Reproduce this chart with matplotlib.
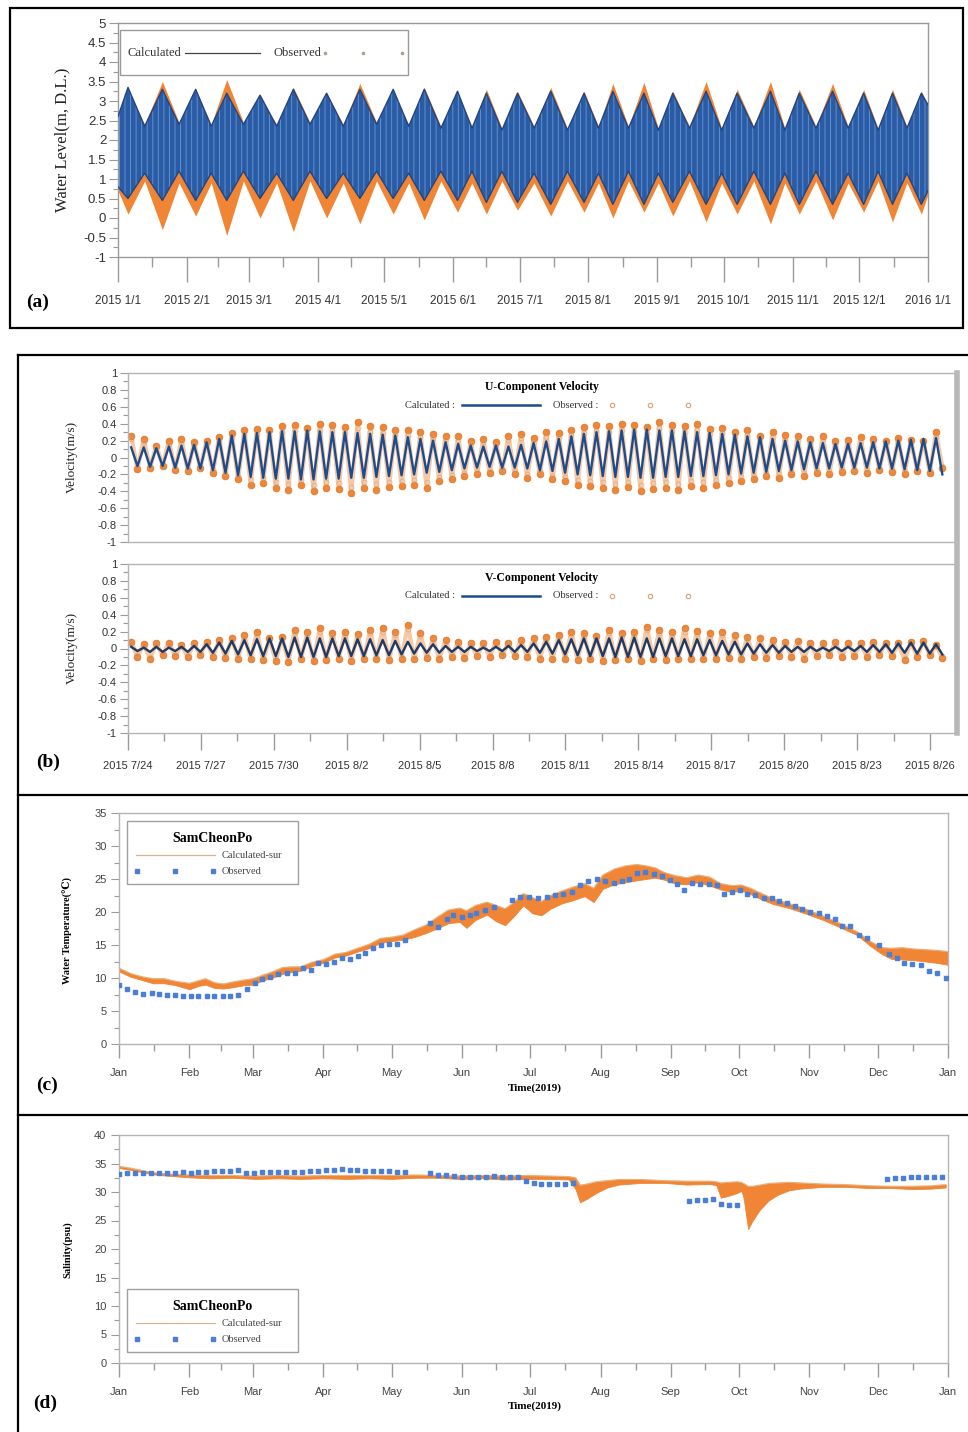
import datetime as dt
import numpy as np
import matplotlib
matplotlib.use('Agg')
import matplotlib.pyplot as plt
from matplotlib.lines import Line2D
from matplotlib.patches import Rectangle
from matplotlib.ticker import FixedLocator, FixedFormatter

plt.rcParams['axes.unicode_minus'] = False
plt.rcParams['hatch.linewidth'] = 0.7

# ---------------- DATA ----------------
# (a) water level envelope (day of 2015, alternating neap / spring extremes)
a_days = [0, 4.5, 12, 20, 27.5, 35, 42, 49, 56.5, 64, 71.5, 79, 86.5, 94, 101.5, 109, 116.5, 124,
          131, 138, 145.5, 153, 159.5, 166, 173, 180, 187.5, 195, 202.5, 210, 216.5, 223, 230, 237,
          243.5, 250, 257.5, 265, 272, 279, 286.5, 294, 300.5, 307, 314.5, 322, 329, 336, 342.5,
          349, 355.5, 362, 365]
a_calc_up = [2.6, 3.35, 2.35, 3.3, 2.4, 3.3, 2.35, 3.2, 2.4, 3.15, 2.35, 3.3, 2.4, 3.2, 2.35, 3.3, 2.4,
             3.3, 2.35, 3.3, 2.3, 3.25, 2.3, 3.2, 2.25, 3.2, 2.3, 3.25, 2.25, 3.2, 2.3, 3.25, 2.3, 3.2,
             2.25, 3.2, 2.3, 3.25, 2.25, 3.2, 2.3, 3.25, 2.25, 3.2, 2.3, 3.25, 2.3, 3.2, 2.25, 3.2,
             2.3, 3.2, 2.9]
a_calc_lo = [0.8, 0.5, 1.15, 0.45, 1.2, 0.45, 1.15, 0.45, 1.2, 0.5, 1.15, 0.45, 1.2, 0.5, 1.15, 0.5, 1.2,
             0.5, 1.15, 0.45, 1.2, 0.45, 1.2, 0.4, 1.2, 0.4, 1.15, 0.35, 1.2, 0.4, 1.15, 0.35, 1.2,
             0.35, 1.15, 0.4, 1.2, 0.35, 1.15, 0.35, 1.2, 0.35, 1.15, 0.35, 1.2, 0.35, 1.15, 0.35,
             1.2, 0.35, 1.15, 0.35, 0.7]
a_obs_up = [2.7, 3.3, 2.4, 3.5, 2.45, 3.3, 2.4, 3.55, 2.45, 3.1, 2.4, 3.35, 2.45, 3.2, 2.4, 3.45, 2.45,
            3.2, 2.4, 3.35, 2.35, 3.2, 2.35, 3.3, 2.3, 3.25, 2.35, 3.35, 2.3, 3.25, 2.35, 3.45, 2.35,
            3.48, 2.3, 3.25, 2.35, 3.5, 2.3, 3.3, 2.35, 3.5, 2.3, 3.3, 2.35, 3.45, 2.35, 3.3, 2.3,
            3.3, 2.35, 3.25, 2.9]
a_obs_lo = [0.7, 0.1, 0.95, -0.3, 0.9, 0.05, 0.9, -0.45, 0.95, 0.0, 0.9, -0.35, 0.95, 0.0, 0.9, -0.15,
            0.95, 0.1, 0.9, -0.05, 0.95, 0.15, 0.9, 0.1, 0.95, 0.2, 0.9, 0.05, 0.95, 0.15, 0.9, 0.0,
            0.95, 0.15, 0.9, 0.05, 0.95, -0.1, 0.9, 0.1, 0.95, -0.15, 0.9, 0.1, 0.95, -0.05, 0.9,
            0.15, 0.95, -0.1, 0.9, 0.1, 0.6]
a_xlabels = ['2015 1/1', '2015 2/1', '2015 3/1', '2015 4/1', '2015 5/1', '2015 6/1', '2015 7/1',
             '2015 8/1', '2015 9/1', '2015 10/1', '2015 11/1', '2015 12/1', '2016 1/1']
a_ylabels = ['5', '4.5', '4', '3.5', '3', '2.5', '2', '1.5', '1', '0.5', '0', '-0.5', '-1']

# (b) velocity extremes per tidal cycle (65 semidiurnal cycles from 2015-07-24)
u_calc_hi = [0.12, 0.12, 0.11, 0.13, 0.14, 0.15, 0.18, 0.22, 0.26, 0.28, 0.29, 0.30, 0.31, 0.31, 0.32,
             0.31, 0.30, 0.30, 0.29, 0.28, 0.27, 0.26, 0.24, 0.22, 0.20, 0.18, 0.16, 0.14, 0.13, 0.14,
             0.13, 0.15, 0.17, 0.19, 0.22, 0.25, 0.28, 0.30, 0.31, 0.32, 0.33, 0.33, 0.32, 0.32, 0.31,
             0.30, 0.29, 0.28, 0.27, 0.25, 0.24, 0.22, 0.20, 0.19, 0.18, 0.17, 0.16, 0.16, 0.17, 0.18,
             0.19, 0.20, 0.21, 0.22, 0.23]
u_calc_lo = [-0.10, -0.11, -0.10, -0.12, -0.13, -0.13, -0.15, -0.18, -0.21, -0.23, -0.24, -0.25, -0.25,
             -0.26, -0.26, -0.25, -0.25, -0.24, -0.24, -0.23, -0.22, -0.21, -0.20, -0.18, -0.17, -0.15,
             -0.13, -0.12, -0.11, -0.12, -0.12, -0.13, -0.15, -0.16, -0.18, -0.20, -0.21, -0.22, -0.23,
             -0.23, -0.24, -0.24, -0.23, -0.23, -0.22, -0.22, -0.21, -0.20, -0.19, -0.18, -0.17, -0.16,
             -0.15, -0.14, -0.13, -0.13, -0.12, -0.12, -0.12, -0.13, -0.13, -0.14, -0.15, -0.16, -0.20]
u_obs_hi = [0.26, 0.22, 0.14, 0.20, 0.22, 0.18, 0.20, 0.24, 0.29, 0.33, 0.34, 0.33, 0.37, 0.39, 0.35,
            0.40, 0.38, 0.36, 0.42, 0.37, 0.36, 0.33, 0.33, 0.30, 0.28, 0.26, 0.25, 0.20, 0.22, 0.18,
            0.25, 0.28, 0.23, 0.30, 0.29, 0.32, 0.36, 0.38, 0.37, 0.40, 0.38, 0.36, 0.42, 0.38, 0.37,
            0.40, 0.34, 0.35, 0.30, 0.32, 0.26, 0.30, 0.27, 0.25, 0.22, 0.26, 0.20, 0.21, 0.24, 0.22,
            0.20, 0.23, 0.21, 0.20, 0.30]
u_obs_lo = [-0.14, -0.12, -0.10, -0.15, -0.16, -0.13, -0.18, -0.22, -0.26, -0.32, -0.30, -0.36, -0.38,
            -0.33, -0.40, -0.36, -0.37, -0.42, -0.36, -0.38, -0.35, -0.34, -0.32, -0.36, -0.28, -0.25,
            -0.22, -0.20, -0.18, -0.16, -0.20, -0.24, -0.20, -0.26, -0.28, -0.32, -0.34, -0.36, -0.38,
            -0.35, -0.40, -0.37, -0.36, -0.38, -0.34, -0.36, -0.33, -0.30, -0.28, -0.26, -0.22, -0.24,
            -0.20, -0.22, -0.18, -0.20, -0.17, -0.16, -0.18, -0.15, -0.17, -0.19, -0.16, -0.18, -0.12]
v_calc_hi = [0.02, 0.01, 0.02, 0.01, 0.02, 0.03, 0.05, 0.07, 0.09, 0.10, 0.11, 0.12, 0.12, 0.13, 0.13,
             0.12, 0.12, 0.12, 0.11, 0.11, 0.10, 0.09, 0.08, 0.06, 0.05, 0.03, 0.02, 0.02, 0.01, 0.02,
             0.03, 0.04, 0.06, 0.08, 0.10, 0.11, 0.12, 0.12, 0.12, 0.13, 0.13, 0.12, 0.12, 0.12, 0.11,
             0.11, 0.10, 0.09, 0.08, 0.06, 0.05, 0.04, 0.03, 0.02, 0.02, 0.01, 0.02, 0.02, 0.03, 0.04,
             0.05, 0.06, 0.07, 0.07, 0.05]
v_calc_lo = [-0.03, -0.04, -0.04, -0.03, -0.04, -0.04, -0.05, -0.06, -0.07, -0.08, -0.09, -0.09, -0.10,
             -0.10, -0.10, -0.10, -0.09, -0.09, -0.09, -0.08, -0.08, -0.07, -0.06, -0.05, -0.05, -0.04,
             -0.04, -0.03, -0.03, -0.03, -0.04, -0.04, -0.05, -0.06, -0.07, -0.08, -0.09, -0.09, -0.10,
             -0.10, -0.10, -0.10, -0.09, -0.09, -0.09, -0.08, -0.08, -0.07, -0.07, -0.06, -0.05, -0.05,
             -0.04, -0.04, -0.03, -0.03, -0.03, -0.03, -0.04, -0.04, -0.05, -0.05, -0.06, -0.06, -0.07]
v_obs_hi = [0.08, 0.05, 0.06, 0.07, 0.04, 0.06, 0.08, 0.10, 0.12, 0.16, 0.20, 0.12, 0.14, 0.22, 0.19,
            0.24, 0.18, 0.20, 0.17, 0.22, 0.24, 0.20, 0.28, 0.18, 0.12, 0.10, 0.08, 0.06, 0.06, 0.08,
            0.07, 0.10, 0.12, 0.14, 0.16, 0.20, 0.18, 0.15, 0.22, 0.18, 0.20, 0.26, 0.22, 0.19, 0.24,
            0.21, 0.18, 0.20, 0.16, 0.14, 0.12, 0.10, 0.08, 0.09, 0.07, 0.06, 0.08, 0.07, 0.06, 0.08,
            0.07, 0.06, 0.08, 0.09, 0.04]
v_obs_lo = [-0.10, -0.12, -0.08, -0.09, -0.10, -0.08, -0.10, -0.11, -0.12, -0.13, -0.14, -0.15, -0.16,
            -0.13, -0.15, -0.14, -0.12, -0.15, -0.13, -0.12, -0.14, -0.12, -0.13, -0.11, -0.12, -0.10,
            -0.11, -0.09, -0.10, -0.08, -0.09, -0.10, -0.12, -0.13, -0.12, -0.14, -0.13, -0.15, -0.14,
            -0.13, -0.15, -0.12, -0.14, -0.13, -0.12, -0.13, -0.12, -0.11, -0.12, -0.10, -0.11, -0.09,
            -0.10, -0.12, -0.09, -0.08, -0.10, -0.09, -0.10, -0.08, -0.09, -0.14, -0.10, -0.08, -0.11]
b_xlabels = ['2015 7/24', '2015 7/27', '2015 7/30', '2015 8/2', '2015 8/5', '2015 8/8', '2015 8/11',
             '2015 8/14', '2015 8/17', '2015 8/20', '2015 8/23', '2015 8/26']
b_ylabels = ['1', '0.8', '0.6', '0.4', '0.2', '0', '-0.2', '-0.4', '-0.6', '-0.8', '-1']

# (c) water temperature 2019 (day of year)
t_calc_days = [0, 5, 10, 15, 20, 25, 31, 35, 38, 42, 46, 50, 55, 59, 63, 68, 72, 76, 80, 85, 90, 95, 100,
               105, 110, 115, 120, 125, 130, 135, 140, 145, 150, 153, 157, 162, 166, 170, 174, 178,
               182, 186, 190, 195, 200, 205, 209, 213, 218, 223, 228, 232, 236, 240, 245, 250, 255,
               260, 265, 270, 274, 278, 283, 288, 295, 302, 310, 318, 325, 331, 336, 340, 345, 350,
               355, 360, 365]
t_calc_lo = [11.0, 10.2, 9.7, 9.2, 9.2, 8.9, 8.3, 8.8, 9.0, 8.5, 8.4, 8.6, 8.9, 9.0, 9.6, 10.1, 10.6,
             10.9, 11.1, 11.8, 12.3, 13.1, 13.4, 14.0, 14.5, 15.3, 15.6, 15.8, 16.2, 16.8, 17.5, 18.3,
             18.5, 17.6, 18.8, 19.6, 18.6, 18.0, 19.4, 21.0, 19.8, 19.5, 20.5, 21.3, 21.8, 22.4, 21.5,
             23.5, 24.2, 24.5, 24.8, 25.0, 25.2, 24.9, 24.3, 24.2, 24.5, 24.0, 23.4, 23.0, 23.3, 22.7,
             21.9, 21.2, 20.6, 19.8, 18.8, 17.6, 16.5, 14.8, 13.6, 12.9, 12.8, 12.7, 12.5, 12.3, 12.0]
t_calc_hi = [11.5, 10.7, 10.2, 9.9, 9.9, 9.5, 9.2, 9.6, 9.9, 9.3, 9.1, 9.4, 9.7, 9.9, 10.4, 11.0, 11.6,
             11.7, 11.7, 12.4, 12.8, 13.6, 13.9, 14.5, 15.1, 16.0, 16.2, 16.5, 17.3, 18.0, 19.2, 20.3,
             20.6, 20.2, 21.0, 21.5, 21.0, 20.5, 21.5, 22.8, 22.2, 21.6, 22.5, 23.2, 23.8, 24.3, 23.6,
             25.6, 26.5, 27.0, 27.2, 27.0, 26.7, 26.0, 25.5, 25.2, 25.6, 25.3, 24.3, 24.0, 24.1, 23.6,
             22.8, 22.0, 21.3, 20.5, 19.4, 18.2, 17.0, 15.5, 14.6, 14.5, 14.6, 14.4, 14.3, 14.2, 14.0]
t_obs_days = [0, 3.7, 7, 10.7, 14.4, 17.8, 21.3, 24.7, 28, 31.6, 35, 38.6, 42, 45.6, 49, 52.6, 56.2, 59.9,
              63.1, 66.5, 70.2, 73.9, 77.3, 80.9, 84.6, 87.5, 91.2, 94.5, 98.1, 101.5, 105.1, 108.4,
              111.8, 115.4, 118.7, 122.4, 126, 137, 140.4, 144.3, 147.2, 150.9, 154.5, 157.4, 161.1,
              164.9, 173, 176.7, 180.3, 184.7, 188.4, 192.1, 195.7, 199.4, 203.1, 206.7, 210.4, 214.1,
              217.8, 221.4, 224.4, 228.1, 231.7, 235.4, 239.1, 242.7, 245.7, 248.6, 252.3, 256, 259.6,
              263.3, 266.2, 269.9, 273.6, 276.5, 280.2, 283.8, 287.5, 290.4, 294.1, 297.8, 300.7,
              304.4, 308.1, 311.7, 315.4, 318.4, 322, 325.7, 329.4, 334.5, 338.9, 342.6, 345.5, 349.2,
              352.9, 356.5, 360.2, 363.9]
t_obs = [9.0, 8.3, 7.9, 7.6, 7.8, 7.6, 7.4, 7.4, 7.2, 7.3, 7.3, 7.3, 7.2, 7.3, 7.3, 7.5, 8.4, 9.2, 9.8,
         10.2, 10.6, 10.7, 10.8, 11.5, 11.2, 12.3, 12.1, 12.5, 13.0, 12.9, 13.4, 13.8, 14.6, 15.0, 15.1,
         15.2, 15.8, 18.4, 17.8, 19.0, 19.5, 19.3, 19.5, 19.8, 20.3, 20.8, 21.8, 22.3, 22.3, 22.1, 22.3,
         22.6, 22.8, 23.1, 24.1, 24.7, 25.0, 24.7, 24.4, 24.7, 25.0, 25.9, 26.1, 25.8, 25.5, 24.8, 24.3,
         23.4, 24.4, 24.3, 24.3, 24.1, 22.7, 23.1, 23.3, 22.8, 22.6, 22.1, 22.1, 21.7, 21.4, 20.9, 20.4,
         20.0, 19.8, 19.4, 18.9, 17.9, 17.9, 16.5, 16.0, 15.0, 13.6, 13.0, 12.2, 12.1, 11.9, 11.1, 10.8,
         10.0]

# (d) salinity 2019
s_calc_days = [0, 5, 10, 15, 20, 30, 40, 50, 60, 70, 80, 90, 100, 110, 120, 130, 140, 150, 160, 170,
               180, 190, 198, 201, 203, 206, 210, 215, 220, 230, 240, 250, 260, 263, 265, 268, 272,
               274, 275, 277, 279, 282, 286, 290, 295, 300, 310, 320, 330, 340, 350, 358, 364]
s_calc_lo = [34.2, 33.9, 33.5, 33.1, 32.9, 32.6, 32.4, 32.5, 32.3, 32.4, 32.3, 32.4, 32.3, 32.4, 32.3,
             32.5, 32.5, 32.3, 32.4, 32.2, 32.3, 32.3, 32.2, 30.5, 28.2, 28.8, 29.8, 30.8, 31.3, 31.6,
             31.6, 31.3, 31.4, 31.2, 29.0, 29.3, 29.8, 30.2, 29.0, 23.5, 25.0, 26.8, 28.5, 29.5, 30.3,
             30.6, 30.9, 30.9, 30.7, 30.7, 30.5, 30.6, 30.8]
s_calc_hi = [34.5, 34.2, 33.8, 33.4, 33.2, 33.0, 32.9, 32.9, 32.8, 32.9, 32.8, 32.9, 32.9, 32.9, 32.9,
             33.0, 32.9, 32.8, 32.9, 32.8, 32.9, 32.8, 32.7, 32.5, 31.2, 31.4, 31.8, 32.0, 32.2, 32.2,
             32.0, 31.9, 31.9, 31.8, 31.6, 31.7, 31.8, 31.7, 31.5, 31.0, 31.0, 31.2, 31.5, 31.6, 31.7,
             31.6, 31.4, 31.3, 31.1, 31.0, 31.0, 31.1, 31.3]
s_obs_days = [0, 3.5, 7, 10.5, 14, 17.5, 21, 24.5, 28, 31.5, 35, 38.5, 42, 45.5, 49, 52.5, 56, 59.5, 63,
              66.5, 70, 73.5, 77, 80.5, 84, 87.5, 91, 94.5, 98, 101.5, 105, 108.5, 112, 115.5, 119,
              122.5, 126, 137, 140.5, 144, 147.5, 151, 154.5, 158, 161.5, 165, 168.5, 172, 175.5,
              179, 182.5, 186, 189.5, 193, 196.5, 200, 251, 254.5, 258, 261.5, 265, 268.5, 272, 338,
              341.5, 345, 348.5, 352, 355.5, 359, 362.5]
s_obs = [33.1, 33.3, 33.4, 33.4, 33.3, 33.3, 33.4, 33.4, 33.5, 33.4, 33.5, 33.5, 33.6, 33.6, 33.7,
         33.8, 33.4, 33.4, 33.5, 33.5, 33.5, 33.5, 33.5, 33.5, 33.6, 33.7, 33.8, 33.8, 34.0, 33.9, 33.8,
         33.7, 33.7, 33.6, 33.6, 33.5, 33.5, 33.3, 33.0, 32.9, 32.8, 32.7, 32.7, 32.7, 32.7, 32.8, 32.7,
         32.7, 32.6, 32.0, 31.6, 31.4, 31.4, 31.4, 31.4, 31.5, 28.4, 28.6, 28.6, 28.8, 27.9, 27.8, 27.7,
         32.3, 32.5, 32.5, 32.6, 32.6, 32.7, 32.7, 32.7]
month_labels = ['Jan', 'Feb', 'Mar', 'Apr', 'May', 'Jun', 'Jul', 'Aug', 'Sep', 'Oct', 'Nov', 'Dec', 'Jan']

# ---------------- FIGURE ----------------
W, H = 968, 1432
fig = plt.figure(figsize=(W / 100, H / 100), dpi=100)

SANS = ['Liberation Sans', 'DejaVu Sans']
SERIF = ['Liberation Serif', 'DejaVu Serif']
GREY = '#9a9a9a'
ORANGE = '#ef8535'
BLUE_SQ = '#4b7fd6'


def rect(l, t, r, b):
    return [l / W, 1 - b / H, (r - l) / W, (b - t) / H]


def fx(x):
    return x / W


def fy(y):
    return 1 - y / H


def ftext(x, y, s, **kw):
    fig.text(fx(x), fy(y), s, **kw)


def fline(xs, ys, **kw):
    fig.add_artist(Line2D([fx(v) for v in xs], [fy(v) for v in ys], transform=fig.transFigure, **kw))


def style_spines(ax, color=GREY, lw=1.0):
    for s in ax.spines.values():
        s.set_color(color)
        s.set_linewidth(lw)


month_days = [(dt.date(2015, m, 1) - dt.date(2015, 1, 1)).days for m in range(1, 13)] + [365]
mid_days = [(month_days[i] + month_days[i + 1]) / 2 for i in range(12)]
month_days19 = [(dt.date(2019, m, 1) - dt.date(2019, 1, 1)).days for m in range(1, 13)] + [365]
mid_days19 = [(month_days19[i] + month_days19[i + 1]) / 2 for i in range(12)]

# ---- panel boxes ----
fig.add_artist(Rectangle((fx(10), fy(328)), (963 - 10) / W, (328 - 8) / H, transform=fig.transFigure,
                         fill=False, ec='black', lw=1.6))
fline([18, 968], [355, 355], color='black', lw=1.6)
fline([18, 18], [355, 1432], color='black', lw=1.6)
fline([18, 968], [795, 795], color='black', lw=1.6)
fline([18, 968], [1115, 1115], color='black', lw=1.6)

# ================= (a) =================
axA = fig.add_axes(rect(118, 23, 928, 257))
axA.fill_between(a_days, a_obs_lo, a_obs_up, color=ORANGE, lw=0, zorder=1)
axA.fill_between(a_days, a_calc_lo, a_calc_up, facecolor='#2a5ba4', edgecolor='#5d92d0', hatch='|||',
                 lw=0, zorder=2)
axA.plot(a_days, a_calc_up, color='#24457e', lw=1.0, zorder=3)
axA.plot(a_days, a_calc_lo, color='#24457e', lw=1.0, zorder=3)
axA.set_xlim(0, 365)
axA.set_ylim(-1, 5)
style_spines(axA)
axA.xaxis.set_major_locator(FixedLocator(month_days))
axA.xaxis.set_major_formatter(FixedFormatter(a_xlabels))
axA.xaxis.set_minor_locator(FixedLocator(mid_days))
axA.yaxis.set_major_locator(FixedLocator(list(np.arange(5, -1.01, -0.5))))
axA.yaxis.set_major_formatter(FixedFormatter(a_ylabels))
axA.yaxis.set_minor_locator(FixedLocator(list(np.arange(4.75, -1, -0.5))))
axA.tick_params(axis='x', which='major', length=18, width=1.0, color=GREY, pad=9, labelsize=8.5,
                labelcolor='#333333')
axA.tick_params(axis='x', which='minor', length=7, width=1.0, color=GREY)
axA.tick_params(axis='y', which='major', length=6.5, width=0.8, color=GREY, pad=2, labelsize=9.5,
                labelcolor='#333333')
axA.tick_params(axis='y', which='minor', length=3.6, width=0.8, color=GREY)
for lab in axA.get_xticklabels() + axA.get_yticklabels():
    lab.set_fontfamily(SANS)
ftext(62, 140, 'Water Level(m, D.L.)', rotation=90, ha='center', va='center', fontsize=12,
      family=SERIF, color='#222222')
ftext(38, 302, '(a)', ha='center', va='center', fontsize=14, family=SERIF, fontweight='bold')
# legend (a)
fig.add_artist(Rectangle((fx(120), fy(75)), (408 - 120) / W, (75 - 30) / H, transform=fig.transFigure,
                         fill=False, ec=GREY, lw=1))
ftext(127, 53, 'Calculated', ha='left', va='center', fontsize=9, family=SERIF, color='#333333')
fline([185, 260], [53, 53], color='#444444', lw=0.9)
ftext(273, 53, 'Observed', ha='left', va='center', fontsize=9, family=SERIF, color='#333333')
for xx in (325, 363, 402):
    fig.add_artist(Line2D([fx(xx)], [fy(53)], transform=fig.transFigure, marker='o', ms=1.6,
                          color='#b0a090', lw=0))

# ================= (b) =================
n_cyc = len(u_calc_hi)
t_hi = 0.13 + 0.5175 * np.arange(n_cyc)
t_lo = t_hi + 0.2588
t_all = np.empty(2 * n_cyc)
t_all[0::2] = t_hi
t_all[1::2] = t_lo


def interleave(hi, lo):
    out = np.empty(2 * len(hi))
    out[0::2] = hi
    out[1::2] = lo
    return out


def vel_panel(ax, calc_hi, calc_lo, obs_hi, obs_lo, title, calc_color):
    obs = interleave(obs_hi, obs_lo)
    calc = interleave(calc_hi, calc_lo)
    ax.plot(t_all, obs, color=ORANGE, lw=3.0, alpha=0.45, zorder=1)
    ax.plot(t_all, obs, ls='none', marker='o', ms=4.8, mfc=ORANGE, mec='#e07a30', mew=0.6, zorder=2)
    ax.plot(t_all, obs * 0.82, ls='none', marker='o', ms=3.5, mfc='none', mec='#d9a070', mew=0.6,
            alpha=0.7, zorder=2)
    ax.plot(t_all, calc, color=calc_color, lw=1.7, zorder=3)
    ax.set_xlim(0, 34.03)
    ax.set_ylim(-1, 1)
    style_spines(ax, color='#b5b5b5')
    ax.yaxis.set_major_locator(FixedLocator(list(np.round(np.arange(1, -1.01, -0.2), 2))))
    ax.yaxis.set_major_formatter(FixedFormatter(b_ylabels))
    ax.yaxis.set_minor_locator(FixedLocator(list(np.round(np.arange(0.9, -1, -0.2), 2))))
    ax.tick_params(axis='y', which='major', length=6, width=0.8, color=GREY, pad=2, labelsize=8,
                   labelcolor='#333333')
    ax.tick_params(axis='y', which='minor', length=3.5, width=0.8, color=GREY)
    for lab in ax.get_yticklabels():
        lab.set_fontfamily(SANS)
    ax.text(0.5, 0.915, title, transform=ax.transAxes, ha='center', va='center', fontsize=8.5,
            family=SERIF, fontweight='bold')


axU = fig.add_axes(rect(128, 373, 955, 542))
vel_panel(axU, u_calc_hi, u_calc_lo, u_obs_hi, u_obs_lo, 'U-Component Velocity', '#1d4c8e')
axU.tick_params(axis='x', bottom=False, labelbottom=False)
axV = fig.add_axes(rect(128, 564, 955, 733))
vel_panel(axV, v_calc_hi, v_calc_lo, v_obs_hi, v_obs_lo, 'V-Component Velocity', '#1e3a66')
axV.xaxis.set_major_locator(FixedLocator(list(range(0, 34, 3))))
axV.xaxis.set_major_formatter(FixedFormatter(b_xlabels))
axV.xaxis.set_minor_locator(FixedLocator([1.5 + 3 * i for i in range(11)]))
axV.tick_params(axis='x', which='major', length=12, width=1.0, color=GREY, pad=8, labelsize=8,
                labelcolor='#333333')
axV.tick_params(axis='x', which='minor', length=6, width=1.0, color=GREY)
for lab in axV.get_xticklabels():
    lab.set_fontfamily(SANS)
fline([957, 957], [373, 733], color='#b8b8b8', lw=4)
for yy in (405, 596):
    ftext(455, yy, 'Calculated :', ha='right', va='center', fontsize=7.5, family=SERIF, color='#333333')
    fline([462, 540], [yy, yy], color='#1d4c8e', lw=1.8)
    ftext(553, yy, 'Observed :', ha='left', va='center', fontsize=7.5, family=SERIF, color='#333333')
    for xx in (612, 650, 688):
        fig.add_artist(Line2D([fx(xx)], [fy(yy)], transform=fig.transFigure, marker='o', ms=3.2,
                              mfc='none', mec='#d9a070', mew=0.8, lw=0))
ftext(72, 457, 'Velocity(m/s)', rotation=90, ha='center', va='center', fontsize=9.5, family=SERIF,
      color='#222222')
ftext(72, 648, 'Velocity(m/s)', rotation=90, ha='center', va='center', fontsize=9.5, family=SERIF,
      color='#222222')
ftext(48, 762, '(b)', ha='center', va='center', fontsize=14, family=SERIF, fontweight='bold')


# ================= (c), (d) =================
def year_axis(ax, ymax, ystep):
    ax.set_xlim(0, 365)
    ax.set_ylim(0, ymax)
    style_spines(ax, color='#b5b5b5')
    ax.xaxis.set_major_locator(FixedLocator(month_days19))
    ax.xaxis.set_major_formatter(FixedFormatter(month_labels))
    ax.xaxis.set_minor_locator(FixedLocator(mid_days19))
    ax.yaxis.set_major_locator(FixedLocator(list(range(0, ymax + 1, ystep))))
    ax.yaxis.set_minor_locator(FixedLocator([v + ystep / 2 for v in range(0, ymax, ystep)]))
    ax.tick_params(axis='x', which='major', length=10, width=1.0, color=GREY, pad=7, labelsize=8,
                   labelcolor='#444444')
    ax.tick_params(axis='x', which='minor', length=5, width=1.0, color=GREY)
    ax.tick_params(axis='y', which='major', length=6, width=0.8, color=GREY, pad=3, labelsize=8,
                   labelcolor='#444444')
    ax.tick_params(axis='y', which='minor', length=3.5, width=0.8, color=GREY)
    for lab in ax.get_xticklabels() + ax.get_yticklabels():
        lab.set_fontfamily(SANS)


def legend_box(l, t, r, b):
    fig.add_artist(Rectangle((fx(l), fy(b)), (r - l) / W, (b - t) / H, transform=fig.transFigure,
                             fill=False, ec='#a0a0a0', lw=1))
    cx = (l + r) / 2
    ftext(cx, t + 17, 'SamCheonPo', ha='center', va='center', fontsize=10, family=SERIF, fontweight='bold')
    fline([l + 9, l + 88], [t + 34, t + 34], color='#d8b48c', lw=0.9)
    ftext(l + 95, t + 34, 'Calculated-sur', ha='left', va='center', fontsize=7.5, family=SERIF,
          color='#444444')
    for xx in (l + 10, l + 48, l + 86):
        fig.add_artist(Line2D([fx(xx)], [fy(t + 50)], transform=fig.transFigure, marker='s', ms=2.8,
                              color=BLUE_SQ, lw=0))
    ftext(l + 95, t + 50, 'Observed', ha='left', va='center', fontsize=7.5, family=SERIF, color='#444444')


axT = fig.add_axes(rect(119, 813, 948, 1044))
axT.fill_between(t_calc_days, t_calc_lo, t_calc_hi, color=ORANGE, lw=0.6, zorder=1)
axT.plot(t_calc_days, t_calc_hi, color='#e9b27a', lw=0.8, zorder=2)
axT.plot(t_obs_days, t_obs, ls='none', marker='s', ms=2.8, color=BLUE_SQ, zorder=3)
year_axis(axT, 35, 5)
legend_box(127, 821, 298, 884)
ftext(535, 1088, 'Time(2019)', ha='center', va='center', fontsize=8, family=SERIF, fontweight='bold')
ftext(68, 930, 'Water Temperature(\u2103)', rotation=90, ha='center', va='center', fontsize=7.5,
      family=SERIF, fontweight='bold')
ftext(47, 1085, '(c)', ha='center', va='center', fontsize=14, family=SERIF, fontweight='bold')

axS = fig.add_axes(rect(119, 1135, 948, 1363))
axS.fill_between(s_calc_days, s_calc_lo, s_calc_hi, color=ORANGE, lw=0.6, zorder=1)
axS.plot(s_calc_days, s_calc_hi, color='#e9b27a', lw=0.8, zorder=2)
axS.plot(s_obs_days, s_obs, ls='none', marker='s', ms=2.8, color=BLUE_SQ, zorder=3)
year_axis(axS, 40, 5)
legend_box(127, 1289, 298, 1352)
ftext(535, 1406, 'Time(2019)', ha='center', va='center', fontsize=8, family=SERIF, fontweight='bold')
ftext(68, 1250, 'Salinity(psu)', rotation=90, ha='center', va='center', fontsize=7.5, family=SERIF,
      fontweight='bold')
ftext(45, 1403, '(d)', ha='center', va='center', fontsize=14, family=SERIF, fontweight='bold')

fig.savefig('out.png', dpi=100, facecolor='white')
